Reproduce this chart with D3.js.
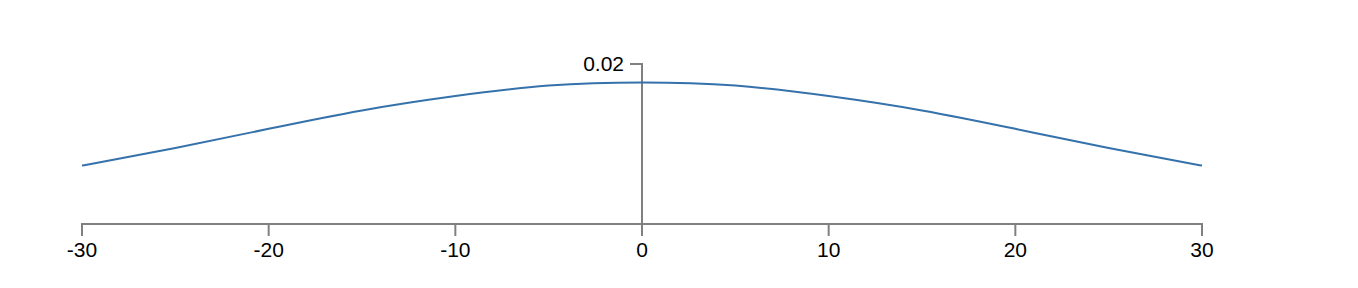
<!DOCTYPE html>
<html>
<head>
<meta charset="utf-8">
<script src="https://cdn.jsdelivr.net/npm/d3@7"></script>
<style>
  body { margin: 0; background: #fff; }
  .axis text { font-family: "Liberation Sans", Arial, sans-serif; font-size: 10.5px; fill: #000; }
  .axis path, .axis line { stroke: #808080; }
</style>
</head>
<body>
<svg id="chart" width="1358" height="288"></svg>
<script>
// values
var xValues = [-30, -25, -20, -15, -10, -5, 0, 5, 10, 15, 20, 25, 30];
var yValues = [0.0073, 0.0095, 0.0119, 0.0142, 0.0160, 0.0173, 0.0177, 0.0173, 0.0160, 0.0142, 0.0119, 0.0095, 0.0073];
var xTicks = [-30, -20, -10, 0, 10, 20, 30];
var yTicks = [0.02];

var points = xValues.map(function(x, i) { return { x: x, y: yValues[i] }; });

// drawn at half size and scaled up, like the 2x screenshot
var svg = d3.select('#chart');
var g = svg.append('g').attr('transform', 'scale(2)');

var x = d3.scaleLinear().domain([-30, 30]).range([41, 601]);
var y = d3.scaleLinear().domain([0, 0.02]).range([112, 32]);

// plain hyphen minus and no padded zeros, as in the picture
var plain = function(d) { return String(d); };

g.append('g')
  .attr('class', 'axis')
  .attr('transform', 'translate(0,' + y(0) + ')')
  .call(d3.axisBottom(x).tickValues(xTicks).tickFormat(plain).offset(0));

g.append('g')
  .attr('class', 'axis')
  .attr('transform', 'translate(' + x(0) + ',0)')
  .call(d3.axisLeft(y).tickValues(yTicks).tickFormat(plain).offset(0));

var line = d3.line()
  .x(function(d) { return x(d.x); })
  .y(function(d) { return y(d.y); })
  .curve(d3.curveNatural);

g.append('path')
  .datum(points)
  .attr('fill', 'none')
  .attr('stroke', '#3571aa')
  .attr('stroke-width', 1)
  .attr('d', line);
</script>
</body>
</html>
